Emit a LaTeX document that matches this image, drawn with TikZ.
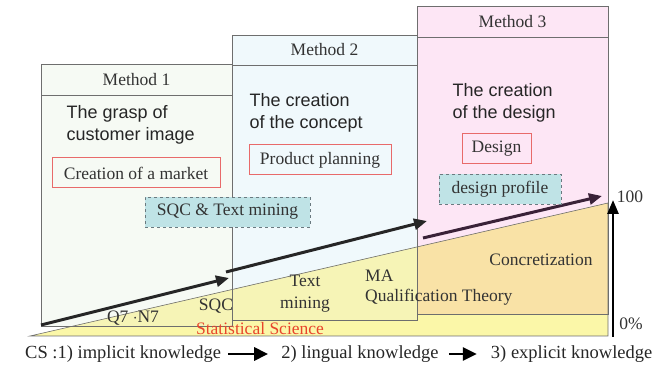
\documentclass[tikz,border=0pt]{standalone}
\usepackage{fontspec}
\setmainfont{Liberation Serif}
\setsansfont{Liberation Sans}
\usetikzlibrary{arrows.meta,positioning}
\definecolor{boxone}{HTML}{F6FAF4}
\definecolor{boxtwo}{HTML}{F0F9FC}
\definecolor{boxthree}{HTML}{FDE6F5}
\definecolor{wedgeyellow}{HTML}{FBF7A8}
\definecolor{wedgemuted}{HTML}{F6F4B6}
\definecolor{wedgeorange}{HTML}{F9E2A6}
\definecolor{framegray}{HTML}{6E6E6E}
\definecolor{inkgray}{HTML}{333333}
\definecolor{redline}{HTML}{E86A6A}
\definecolor{toolcyan}{HTML}{BFE3E6}
\definecolor{dashgray}{HTML}{6A7A80}
\definecolor{sciencered}{HTML}{E8452C}
\definecolor{arrowdark}{HTML}{262626}
\definecolor{arrowplum}{HTML}{3A2238}

\begin{document}
\begin{tikzpicture}[x=1pt,y=-1pt,
  frame/.style={draw=framegray,line width=0.8pt},
  head/.style={font=\fontsize{17.5}{20}\selectfont,text=inkgray},
  topic/.style={font=\sffamily\fontsize{18}{22}\selectfont,align=left,text=black!85,anchor=west},
  redbox/.style={draw=redline,line width=1pt,font=\fontsize{17.5}{20}\selectfont,text=inkgray,minimum height=30pt,inner sep=0pt},
  toolbox/.style={draw=dashgray,dashed,line width=0.8pt,fill=toolcyan,font=\fontsize{17.5}{20}\selectfont,text=inkgray,minimum height=30pt,inner sep=0pt},
  flow/.style={line width=3pt,draw=arrowdark,-{Triangle[length=13pt,width=11pt]}},
  lbl/.style={font=\fontsize{17.5}{20}\selectfont,text=inkgray,inner sep=2pt},
  cs/.style={font=\fontsize{18.5}{20}\selectfont,text=black!85,inner sep=2pt},
  csflow/.style={line width=2.8pt,-{Triangle[length=14pt,width=13pt]}}]

\useasboundingbox (0,0) rectangle (662,366);

% method boxes
\foreach \xa/\ya/\xb/\yb/\c in {41/64/232/326/boxone,232/35/417/320/boxtwo,417/6/608/314/boxthree} {
\fill[\c] (\xa,\ya) rectangle (\xb,\yb);
}

% knowledge wedge
\fill[wedgeyellow] (30,336) -- (608,336) -- (608,203) -- cycle;
\foreach \xa/\ya/\xb/\yb/\c in {41/64/232/326/wedgemuted,232/35/417/320/wedgemuted,417/6/608/314/wedgeorange} {
\begin{scope}
\clip (\xa,\ya) rectangle (\xb,\yb);
\fill[\c] (30,336) -- (608,336) -- (608,203) -- cycle;
\end{scope}
}
\draw[framegray,line width=0.6pt] (30,336) -- (608,336) -- (608,203) -- cycle;

\foreach \xa/\ya/\xb/\yb/\yh in {41/64/232/326/95,232/35/417/320/65,417/6/608/314/37} {
\draw[frame] (\xa,\ya) rectangle (\xb,\yb);
\draw[frame] (\xa,\yh) -- (\xb,\yh);
}

\node[head] (h1) at (136.5,79.5) {Method 1};
\node[head] (h2) at (324.5,50) {Method 2};
\node[head] (h3) at (512.5,21.5) {Method 3};

\node[topic] (t1) at (63,125) {The grasp of\\customer image};
\node[topic] (t2) at (246,113) {The creation\\of the concept};
\node[topic] (t3) at (449,103) {The creation\\of the design};

\node[redbox,minimum width=168pt] (r1) at (136,173) {Creation of a market};
\node[redbox,minimum width=142pt] (r2) at (320,160) {Product planning};
\node[redbox,minimum width=69pt] (r3) at (496.5,149) {Design};

\coordinate (a0) at (41,325);
\coordinate (a1) at (229,278);
\coordinate (a2) at (226,272);
\coordinate (a3) at (427,221);
\coordinate (a4) at (423,238);
\coordinate (a5) at (602,196);
\draw[flow] (a0) -- (a1);
\draw[flow] (a2) -- (a3);
\draw[flow,draw=arrowplum] (a4) -- (a5);

\node[toolbox,minimum width=165pt] (d1) at (227.5,212) {SQC \& Text mining};
\node[toolbox,minimum width=122pt] (d2) at (500,189) {design profile};

\node[lbl] (q7) at (133,318) {Q7 $\cdot$N7};
\node[lbl] (sqc) at (216,306) {SQC};
\node[lbl,align=center,font=\fontsize{17.5}{22}\selectfont] (tm) at (305,294) {Text\\mining};
\node[lbl,align=left,anchor=west] (ma) at (363,288) {MA\\Qualification Theory};
\node[lbl] (cz) at (541,260) {Concretization};
\node[lbl,text=sciencered] (ss) at (260,329) {Statistical Science};

\coordinate (v0) at (613,337);
\coordinate (v1) at (613,200);
\draw[line width=2.6pt,-{Triangle[length=14pt,width=11pt]}] (v0) -- (v1);
\node[lbl] (top) at (630,197) {100};
\node[lbl] (bot) at (631,324) {0\%};

\node[cs,anchor=west] (k1) at (23,354) {CS :1) implicit knowledge};
\node[cs,right=56pt of k1] (k2) {2) lingual knowledge};
\node[cs,right=48pt of k2] (k3) {3) explicit knowledge};
\draw[csflow,shorten <=5pt,shorten >=11pt] (k1) -- (k2);
\draw[csflow,shorten <=8pt,shorten >=12pt] (k2) -- (k3);
\end{tikzpicture}
\end{document}
